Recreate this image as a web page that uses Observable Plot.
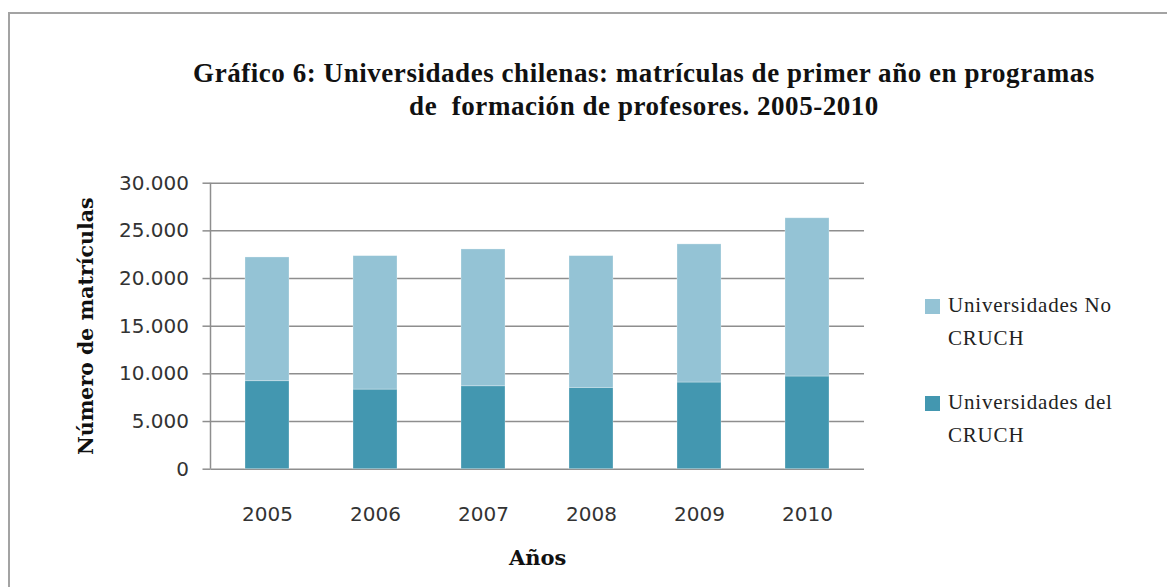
<!DOCTYPE html>
<html>
<head>
<meta charset="utf-8">
<script src="https://cdn.jsdelivr.net/npm/d3@7"></script>
<script src="https://cdn.jsdelivr.net/npm/@observablehq/plot@0.6"></script>
<style>
  body { margin: 0; background: #fff; }
  #wrap { position: relative; width: 1167px; height: 587px; overflow: hidden; background: #fff; }
  #frame { position: absolute; left: 8px; top: 12px; width: 1300px; height: 700px; border: 2px solid #a3a3a3; box-sizing: border-box; }
  #title { position: absolute; left: 0; top: 57px; width: 1288px; text-align: center; font-family: "Liberation Serif", serif; font-weight: bold; font-size: 27px; line-height: 33px; letter-spacing: 0.55px; color: #111; white-space: pre; }
  #chart { position: absolute; left: 0; top: 140px; }
  .sw { position: absolute; left: 925px; width: 15px; height: 15px; }
  .lt { position: absolute; left: 948px; width: 200px; font-family: "Liberation Serif", serif; font-size: 21px; line-height: 33px; letter-spacing: 0.8px; color: #222; }
</style>
</head>
<body>
<div id="wrap">
  <div id="frame"></div>
  <div id="title"></div>
  <div id="chart"></div>
  <div id="legend"></div>
</div>
<script>
const titleLines = [
  "Gráfico 6: Universidades chilenas: matrículas de primer año en programas",
  "de  formación de profesores. 2005-2010"
];
const years = ["2005", "2006", "2007", "2008", "2009", "2010"];
const seriesNames = ["Universidades del CRUCH", "Universidades No CRUCH"];
const cruch = [9230, 8350, 8700, 8530, 9090, 9720];
const noCruch = [12980, 14000, 14350, 13820, 14490, 16600];
const seriesColors = ["#4397b0", "#94c3d5"];
const yTicks = [0, 5000, 10000, 15000, 20000, 25000, 30000];
const yLabel = "Número de matrículas";
const xLabel = "Años";

document.getElementById("title").textContent = titleLines.join("\n");

const seriesValues = [cruch, noCruch];
const rows = [];
seriesNames.forEach((s, si) => {
  years.forEach((yr, i) => rows.push({year: yr, series: s, value: seriesValues[si][i]}));
});

const fmt = d => d3.format(",")(d).replace(/,/g, ".");
const gridColor = "#8e8e8e";

const leftLine = (index, scales, values, dimensions) => {
  const {marginLeft, marginTop, height, marginBottom} = dimensions;
  return d3.create("svg:line")
    .attr("x1", marginLeft).attr("x2", marginLeft)
    .attr("y1", marginTop).attr("y2", height - marginBottom)
    .attr("stroke", gridColor).attr("stroke-width", 1.5)
    .node();
};

const chart = Plot.plot({
  width: 1167,
  height: 447,
  marginTop: 42.7,
  marginBottom: 118.3,
  marginLeft: 210.5,
  marginRight: 303,
  style: {background: "transparent", color: "#333"},
  x: {type: "band", domain: years, paddingInner: 0.596, paddingOuter: 0.3, axis: null},
  y: {domain: [0, 30000], axis: null},
  color: {domain: seriesNames, range: seriesColors},
  marks: [
    Plot.gridY(yTicks, {stroke: gridColor, strokeOpacity: 1, strokeWidth: 1.5}),
    Plot.axisY(yTicks, {tickSize: 8, tickPadding: 14, tickFormat: fmt, stroke: gridColor, strokeWidth: 1.5, fill: "#333", fontSize: 20, fontFamily: "DejaVu Sans", label: null}),
    Plot.axisX(years, {tickSize: 0, tickPadding: 38, fill: "#333", fontSize: 20, fontFamily: "DejaVu Sans", label: null}),
    Plot.barY(rows, {x: "year", y: "value", fill: "series", stroke: "#ffffff", strokeOpacity: 0.35, strokeWidth: 0.8}),
    leftLine,
    Plot.text([yLabel], {text: d => d, frameAnchor: "left", textAnchor: "middle", rotate: -90, dx: -124.5, fontFamily: "DejaVu Serif", fontWeight: "bold", fontSize: 20.5, fill: "#111"}),
    Plot.text([xLabel], {text: d => d, frameAnchor: "bottom", dy: 95.5, fontFamily: "DejaVu Serif", fontWeight: "bold", fontSize: 21, fill: "#111"})
  ]
});
document.getElementById("chart").appendChild(chart);

// Legend (top: No CRUCH, bottom: del CRUCH)
const legend = document.getElementById("legend");
const legendOrder = [1, 0];
const legendTops = [289, 386];
legendOrder.forEach((si, k) => {
  const sw = document.createElement("div");
  sw.className = "sw";
  sw.style.top = (legendTops[k] + 10) + "px";
  sw.style.background = seriesColors[si];
  legend.appendChild(sw);
  const t = document.createElement("div");
  t.className = "lt";
  t.style.top = legendTops[k] + "px";
  t.style.width = "185px";
  t.textContent = seriesNames[si];
  legend.appendChild(t);
});
</script>
</body>
</html>
